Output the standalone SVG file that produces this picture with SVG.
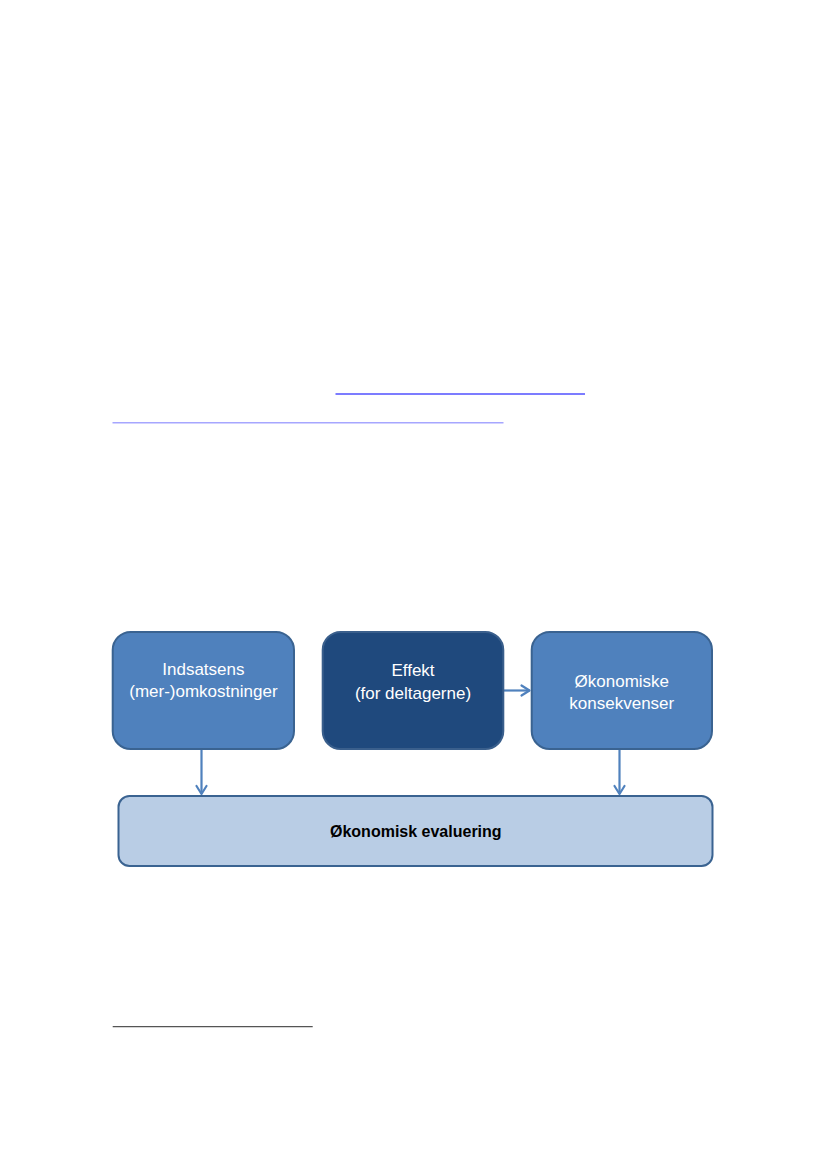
<svg xmlns="http://www.w3.org/2000/svg" width="827" height="1169" viewBox="0 0 827 1169">
<style>
.box{fill:#4F81BD;stroke:#3A6391;stroke-width:2}
.dark{fill:#1F497D;stroke:#3A5F8C;stroke-width:2}
.light{fill:#B9CDE5;stroke:#3A6391;stroke-width:2}
.t{font-family:"Liberation Sans",Arial,sans-serif;font-size:17px;fill:#FFFFFF;text-anchor:middle}
.b{font-family:"Liberation Sans",Arial,sans-serif;font-size:16px;font-weight:bold;fill:#000000;text-anchor:middle}
.conn{stroke:#4F81BD;stroke-width:2.2;fill:none}
.head{stroke:#4F81BD;stroke-width:2.2;fill:none;stroke-linecap:round;stroke-linejoin:round}
</style>
<rect width="827" height="1169" fill="#FFFFFF"/>
<line x1="335.5" y1="394" x2="585" y2="394" stroke="#5050FF" stroke-width="1.4"/>
<line x1="112.5" y1="422.7" x2="503.5" y2="422.7" stroke="#A6A6FF" stroke-width="1.6"/>
<line x1="112.7" y1="1026.7" x2="312.7" y2="1026.7" stroke="#555555" stroke-width="1.2"/>
<g id="connectors">
<line class="conn" x1="201.5" y1="750" x2="201.5" y2="794"/>
<polyline class="head" points="196.5,786 201.5,794 206.5,786"/>
<line class="conn" x1="619.5" y1="750" x2="619.5" y2="794"/>
<polyline class="head" points="614.5,786 619.5,794 624.5,786"/>
<line class="conn" x1="504" y1="690.5" x2="529.5" y2="690.5"/>
<polyline class="head" points="521.5,685.5 529.5,690.5 521.5,695.5"/>
</g>
<g id="node-indsatsens">
<rect class="box" x="112.7" y="632" width="181.3" height="117" rx="18"/>
<text class="t" x="203.4" y="675">Indsatsens</text>
<text class="t" x="203.4" y="697">(mer-)omkostninger</text>
</g>
<g id="node-effekt">
<rect class="dark" x="322.7" y="632" width="180.6" height="117" rx="18"/>
<text class="t" x="413" y="676">Effekt</text>
<text class="t" x="413" y="698.5">(for deltagerne)</text>
</g>
<g id="node-okonomiske">
<rect class="box" x="531.7" y="632" width="180.3" height="117" rx="18"/>
<text class="t" x="621.8" y="686.5">Økonomiske</text>
<text class="t" x="621.8" y="708.5">konsekvenser</text>
</g>
<g id="node-evaluering">
<rect class="light" x="118.5" y="796" width="594" height="70" rx="11"/>
<text class="b" x="415.8" y="836.5">Økonomisk evaluering</text>
</g>
</svg>
